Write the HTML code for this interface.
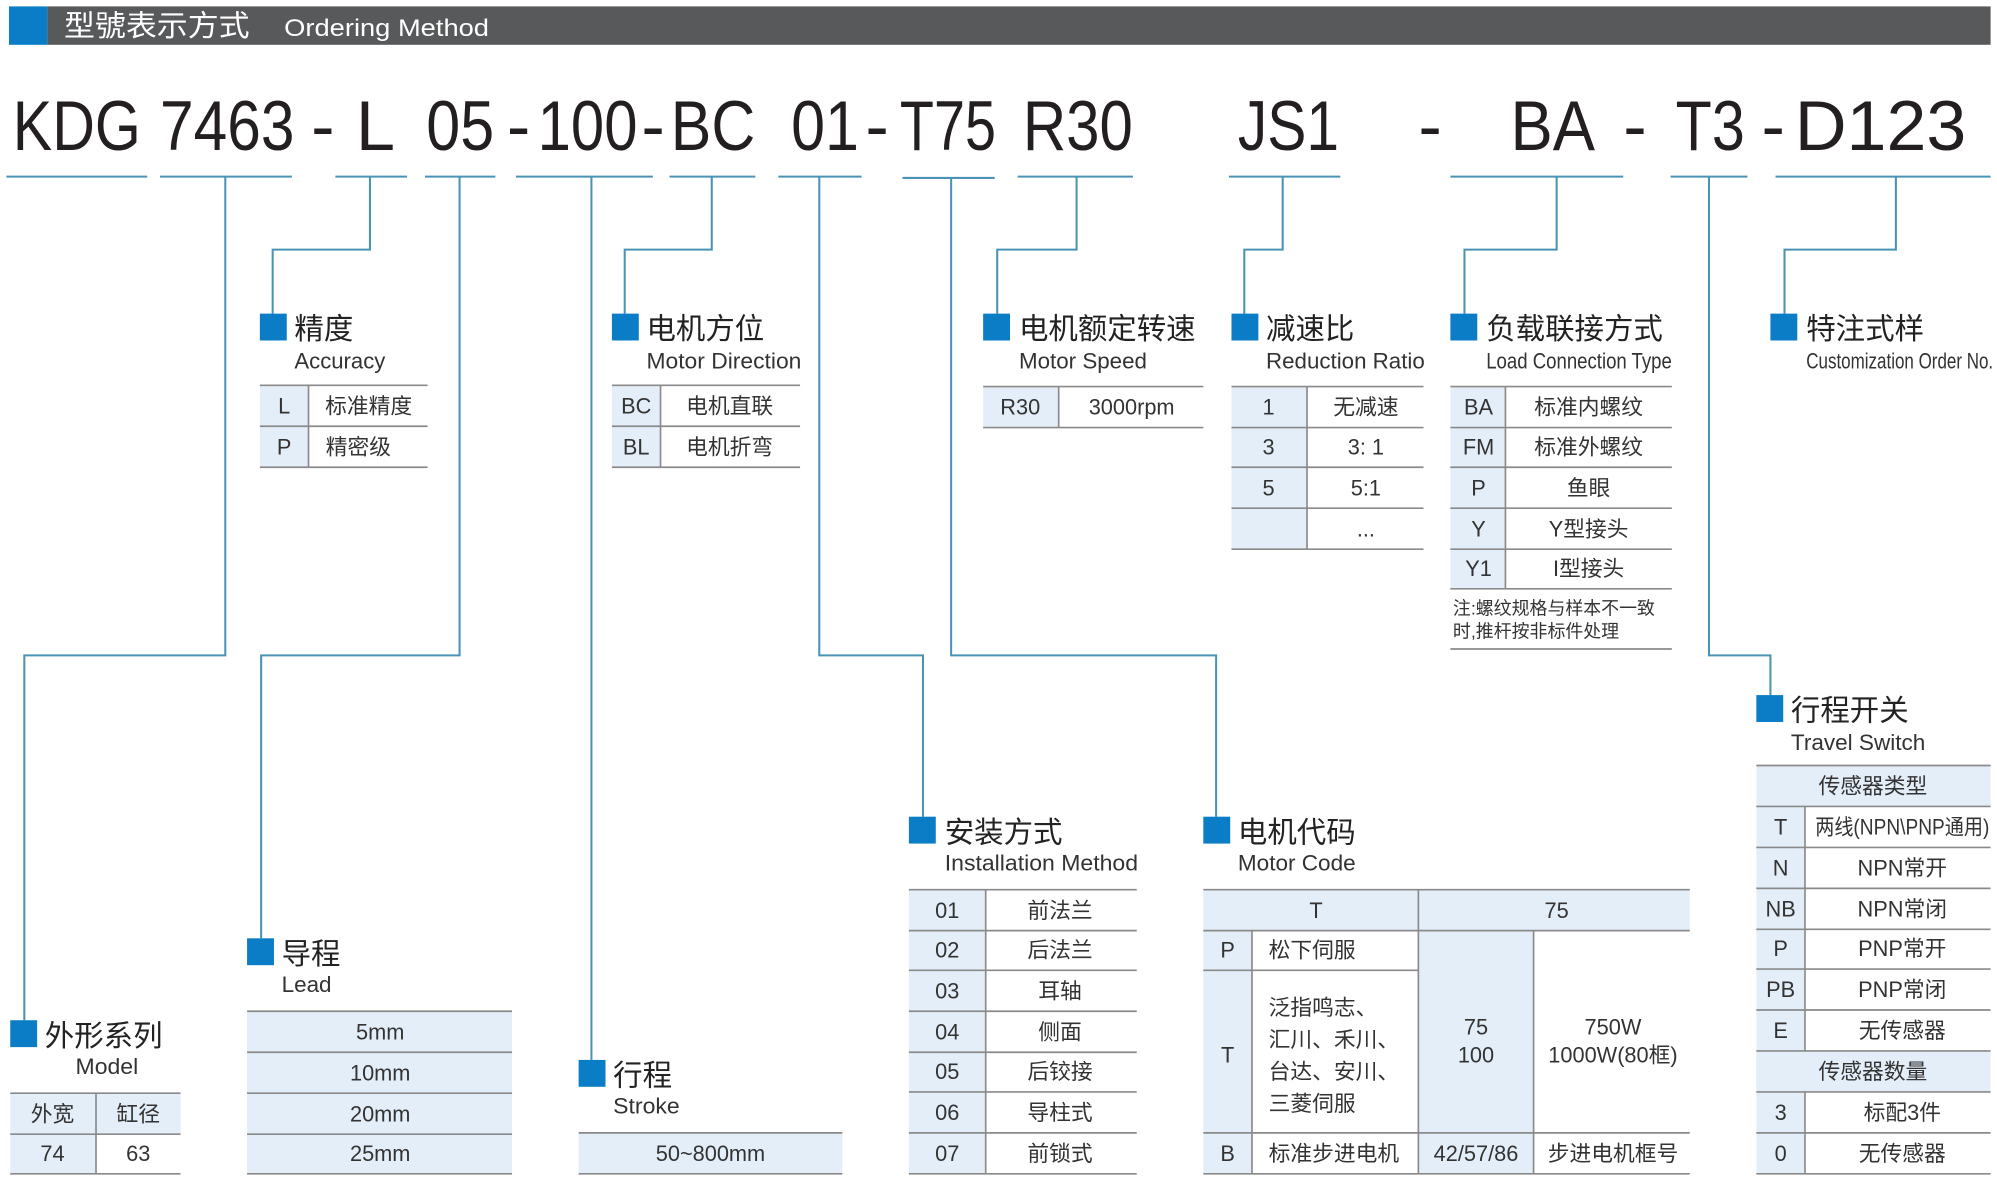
<!DOCTYPE html>
<html><head><meta charset="utf-8"><style>
html,body{margin:0;padding:0;background:#fff;}
svg{display:block;}
text{font-family:"Liberation Sans","Noto Sans CJK SC",sans-serif;fill:#333;}
.big{font-size:55px;fill:#231f20;}
.t{font-size:23px;fill:#222;}
.e{font-size:17px;fill:#333;}
.c{font-size:17px;text-anchor:middle;}
.l{font-size:17px;}
.cn{stroke:#4a93b5;stroke-width:1.6;fill:none;}
.ul{stroke:#4a93b5;stroke-width:1.6;}
.g{stroke:#8a8a8a;stroke-width:1.3;}
.bg{fill:#e4eef8;}
.sq{fill:#0b7dc6;}
</style></head><body>
<svg width="1997" height="1186" viewBox="0 0 1560 926.5" preserveAspectRatio="none" xmlns="http://www.w3.org/2000/svg">
<!-- header -->
<rect x="37" y="5" width="1518" height="30" fill="#58595b"/>
<rect x="7" y="5" width="30" height="30" fill="#0b7dc6"/>
<text x="50" y="28" style="font-size:23px;fill:#fff" textLength="145" lengthAdjust="spacingAndGlyphs">型號表示方式</text>
<text x="222" y="28" style="font-size:19px;fill:#fff" textLength="160" lengthAdjust="spacingAndGlyphs">Ordering Method</text>

<!-- code -->
<g class="big">
<text class="big" x="10" y="117" textLength="100" lengthAdjust="spacingAndGlyphs">KDG</text>
<text class="big" x="125" y="117" textLength="105" lengthAdjust="spacingAndGlyphs">7463</text>
<text class="big" x="243" y="117">-</text>
<text class="big" x="278" y="117">L</text>
<text class="big" x="333" y="117" textLength="53" lengthAdjust="spacingAndGlyphs">05</text>
<text class="big" x="396" y="117">-</text>
<text class="big" x="420" y="117" textLength="78" lengthAdjust="spacingAndGlyphs">100</text>
<text class="big" x="501" y="117">-</text>
<text class="big" x="524" y="117" textLength="66" lengthAdjust="spacingAndGlyphs">BC</text>
<text class="big" x="618" y="117" textLength="53" lengthAdjust="spacingAndGlyphs">01</text>
<text class="big" x="676" y="117">-</text>
<text class="big" x="703" y="117" textLength="75" lengthAdjust="spacingAndGlyphs">T75</text>
<text class="big" x="799" y="117" textLength="86" lengthAdjust="spacingAndGlyphs">R30</text>
<text class="big" x="967" y="117" textLength="79" lengthAdjust="spacingAndGlyphs">JS1</text>
<text class="big" x="1108" y="117">-</text>
<text class="big" x="1180" y="117" textLength="66" lengthAdjust="spacingAndGlyphs">BA</text>
<text class="big" x="1268" y="117">-</text>
<text class="big" x="1309" y="117" textLength="54" lengthAdjust="spacingAndGlyphs">T3</text>
<text class="big" x="1376" y="117">-</text>
<text class="big" x="1402" y="117" textLength="134" lengthAdjust="spacingAndGlyphs">D123</text>
</g>

<!-- underlines -->
<g class="ul">
<line x1="5" y1="138" x2="115" y2="138"/><line x1="125" y1="138" x2="228" y2="138"/>
<line x1="262" y1="138" x2="318" y2="138"/><line x1="332" y1="138" x2="387" y2="138"/>
<line x1="403" y1="138" x2="510" y2="138"/><line x1="523" y1="138" x2="590" y2="138"/>
<line x1="608" y1="138" x2="673" y2="138"/><line x1="705" y1="139" x2="777" y2="139"/>
<line x1="795" y1="138" x2="885" y2="138"/><line x1="960" y1="138" x2="1047" y2="138"/>
<line x1="1133" y1="138" x2="1268" y2="138"/><line x1="1305" y1="138" x2="1365" y2="138"/>
<line x1="1387" y1="138" x2="1555" y2="138"/>
</g>

<!-- connectors -->
<g class="cn">
<polyline points="176,138 176,512 19,512 19,797"/>
<polyline points="289,138 289,195 213,195 213,245"/>
<polyline points="359,138 359,512 204,512 204,733"/>
<polyline points="462,138 462,828"/>
<polyline points="556,138 556,195 488,195 488,245"/>
<polyline points="640,138 640,512 721,512 721,638"/>
<polyline points="743,139 743,512 950,512 950,638"/>
<polyline points="841,138 841,195 779,195 779,245"/>
<polyline points="1002,138 1002,195 972,195 972,245"/>
<polyline points="1216,138 1216,195 1144,195 1144,245"/>
<polyline points="1335,138 1335,512 1383,512 1383,543"/>
<polyline points="1481,138 1481,195 1394,195 1394,245"/>
</g>

<!-- squares -->
<g class="sq">
<rect x="8" y="797" width="21" height="21"/>
<rect x="203" y="245" width="21" height="21"/>
<rect x="193" y="733" width="21" height="21"/>
<rect x="452" y="828" width="21" height="21"/>
<rect x="478" y="245" width="21" height="21"/>
<rect x="710" y="638" width="21" height="21"/>
<rect x="940" y="638" width="21" height="21"/>
<rect x="768" y="245" width="21" height="21"/>
<rect x="962" y="245" width="21" height="21"/>
<rect x="1133" y="245" width="21" height="21"/>
<rect x="1372" y="543" width="21" height="21"/>
<rect x="1383" y="245" width="21" height="21"/>
</g>

<!-- titles -->
<text class="t" x="35" y="817">外形系列</text>
<text class="e" x="59" y="839" textLength="49" lengthAdjust="spacingAndGlyphs">Model</text>
<text class="t" x="230" y="265">精度</text>
<text class="e" x="230" y="288" textLength="71" lengthAdjust="spacingAndGlyphs">Accuracy</text>
<text class="t" x="220" y="753">导程</text>
<text class="e" x="220" y="775" textLength="39" lengthAdjust="spacingAndGlyphs">Lead</text>
<text class="t" x="479" y="848">行程</text>
<text class="e" x="479" y="870" textLength="52" lengthAdjust="spacingAndGlyphs">Stroke</text>
<text class="t" x="505" y="265">电机方位</text>
<text class="e" x="505" y="288" textLength="121" lengthAdjust="spacingAndGlyphs">Motor Direction</text>
<text class="t" x="738" y="658">安装方式</text>
<text class="e" x="738" y="680" textLength="151" lengthAdjust="spacingAndGlyphs">Installation Method</text>
<text class="t" x="967" y="658">电机代码</text>
<text class="e" x="967" y="680" textLength="92" lengthAdjust="spacingAndGlyphs">Motor Code</text>
<text class="t" x="796" y="265">电机额定转速</text>
<text class="e" x="796" y="288" textLength="100" lengthAdjust="spacingAndGlyphs">Motor Speed</text>
<text class="t" x="989" y="265">减速比</text>
<text class="e" x="989" y="288" textLength="124" lengthAdjust="spacingAndGlyphs">Reduction Ratio</text>
<text class="t" x="1161" y="265">负载联接方式</text>
<text class="e" x="1161" y="288" textLength="145" lengthAdjust="spacingAndGlyphs">Load Connection Type</text>
<text class="t" x="1411" y="265">特注式样</text>
<text class="e" x="1411" y="288" textLength="146" lengthAdjust="spacingAndGlyphs">Customization Order No.</text>
<text class="t" x="1399" y="563">行程开关</text>
<text class="e" x="1399" y="586" textLength="105" lengthAdjust="spacingAndGlyphs">Travel Switch</text>

<!-- Accuracy table -->
<rect class="bg" x="203" y="301" width="38" height="64"/>
<g class="g"><line x1="203" y1="301" x2="334" y2="301"/><line x1="203" y1="333" x2="334" y2="333"/><line x1="203" y1="365" x2="334" y2="365"/><line x1="241" y1="301" x2="241" y2="365"/></g>
<text class="c" x="222" y="323">L</text><text class="c" x="288" y="323">标准精度</text>
<text class="c" x="222" y="355">P</text><text class="c" x="280" y="355">精密级</text>

<!-- Motor direction table -->
<rect class="bg" x="478" y="301" width="38" height="64"/>
<g class="g"><line x1="478" y1="301" x2="625" y2="301"/><line x1="478" y1="333" x2="625" y2="333"/><line x1="478" y1="365" x2="625" y2="365"/><line x1="516" y1="301" x2="516" y2="365"/></g>
<text class="c" x="497" y="323">BC</text><text class="c" x="570" y="323">电机直联</text>
<text class="c" x="497" y="355">BL</text><text class="c" x="570" y="355">电机折弯</text>

<!-- Motor speed -->
<rect class="bg" x="768" y="302" width="59" height="32"/>
<g class="g"><line x1="768" y1="302" x2="940" y2="302"/><line x1="768" y1="334" x2="940" y2="334"/><line x1="827" y1="302" x2="827" y2="334"/></g>
<text class="c" x="797" y="324">R30</text><text class="c" x="884" y="324">3000rpm</text>

<!-- Reduction -->
<rect class="bg" x="962" y="302" width="59" height="127"/>
<g class="g"><line x1="962" y1="302" x2="1112" y2="302"/><line x1="962" y1="334" x2="1112" y2="334"/><line x1="962" y1="365" x2="1112" y2="365"/><line x1="962" y1="397" x2="1112" y2="397"/><line x1="962" y1="429" x2="1112" y2="429"/><line x1="1021" y1="302" x2="1021" y2="429"/></g>
<text class="c" x="991" y="324">1</text><text class="c" x="1067" y="324">无减速</text>
<text class="c" x="991" y="355">3</text><text class="c" x="1067" y="355">3: 1</text>
<text class="c" x="991" y="387">5</text><text class="c" x="1067" y="387">5:1</text>
<text class="c" x="1067" y="419">...</text>

<!-- Load -->
<rect class="bg" x="1133" y="302" width="43" height="158"/>
<g class="g"><line x1="1133" y1="302" x2="1306" y2="302"/><line x1="1133" y1="334" x2="1306" y2="334"/><line x1="1133" y1="365" x2="1306" y2="365"/><line x1="1133" y1="397" x2="1306" y2="397"/><line x1="1133" y1="429" x2="1306" y2="429"/><line x1="1133" y1="460" x2="1306" y2="460"/><line x1="1176" y1="302" x2="1176" y2="460"/><line x1="1133" y1="507" x2="1306" y2="507"/></g>
<text class="c" x="1155" y="324">BA</text><text class="c" x="1241" y="324">标准内螺纹</text>
<text class="c" x="1155" y="355">FM</text><text class="c" x="1241" y="355">标准外螺纹</text>
<text class="c" x="1155" y="387">P</text><text class="c" x="1241" y="387">鱼眼</text>
<text class="c" x="1155" y="419">Y</text><text class="c" x="1241" y="419">Y型接头</text>
<text class="c" x="1155" y="450">Y1</text><text class="c" x="1241" y="450">I型接头</text>
<text x="1135" y="480" style="font-size:14px">注:螺纹规格与样本不一致</text>
<text x="1135" y="498" style="font-size:14px">时,推杆按非标件处理</text>

<!-- Model -->
<rect class="bg" x="8" y="854" width="133" height="32"/>
<rect class="bg" x="8" y="886" width="67" height="31"/>
<g class="g"><line x1="8" y1="854" x2="141" y2="854"/><line x1="8" y1="886" x2="141" y2="886"/><line x1="8" y1="917" x2="141" y2="917"/><line x1="75" y1="854" x2="75" y2="917"/></g>
<text class="c" x="41" y="876">外宽</text><text class="c" x="108" y="876">缸径</text>
<text class="c" x="41" y="907">74</text><text class="c" x="108" y="907">63</text>

<!-- Lead -->
<rect class="bg" x="193" y="790" width="207" height="127"/>
<g class="g"><line x1="193" y1="790" x2="400" y2="790"/><line x1="193" y1="822" x2="400" y2="822"/><line x1="193" y1="854" x2="400" y2="854"/><line x1="193" y1="886" x2="400" y2="886"/><line x1="193" y1="917" x2="400" y2="917"/></g>
<text class="c" x="297" y="812">5mm</text><text class="c" x="297" y="844">10mm</text><text class="c" x="297" y="876">20mm</text><text class="c" x="297" y="907">25mm</text>

<!-- Stroke -->
<rect class="bg" x="452" y="885" width="206" height="32"/>
<g class="g"><line x1="452" y1="885" x2="658" y2="885"/><line x1="452" y1="917" x2="658" y2="917"/></g>
<text class="c" x="555" y="907">50~800mm</text>

<!-- Installation -->
<rect class="bg" x="710" y="695" width="60" height="222"/>
<g class="g">
<line x1="710" y1="695" x2="888" y2="695"/><line x1="710" y1="727" x2="888" y2="727"/><line x1="710" y1="758" x2="888" y2="758"/><line x1="710" y1="790" x2="888" y2="790"/><line x1="710" y1="822" x2="888" y2="822"/><line x1="710" y1="853" x2="888" y2="853"/><line x1="710" y1="885" x2="888" y2="885"/><line x1="710" y1="917" x2="888" y2="917"/><line x1="770" y1="695" x2="770" y2="917"/></g>
<text class="c" x="740" y="717">01</text><text class="c" x="828" y="717">前法兰</text>
<text class="c" x="740" y="748">02</text><text class="c" x="828" y="748">后法兰</text>
<text class="c" x="740" y="780">03</text><text class="c" x="828" y="780">耳轴</text>
<text class="c" x="740" y="812">04</text><text class="c" x="828" y="812">侧面</text>
<text class="c" x="740" y="843">05</text><text class="c" x="828" y="843">后铰接</text>
<text class="c" x="740" y="875">06</text><text class="c" x="828" y="875">导柱式</text>
<text class="c" x="740" y="907">07</text><text class="c" x="828" y="907">前锁式</text>

<!-- Motor code -->
<rect class="bg" x="940" y="695" width="380" height="32"/>
<rect class="bg" x="940" y="727" width="38" height="190"/>
<rect class="bg" x="1108" y="727" width="90" height="190"/>
<g class="g">
<line x1="940" y1="695" x2="1320" y2="695"/><line x1="940" y1="727" x2="1320" y2="727"/><line x1="940" y1="758" x2="1108" y2="758"/><line x1="940" y1="885" x2="1320" y2="885"/><line x1="940" y1="917" x2="1320" y2="917"/>
<line x1="978" y1="727" x2="978" y2="917"/><line x1="1108" y1="695" x2="1108" y2="917"/><line x1="1198" y1="727" x2="1198" y2="917"/></g>
<text class="c" x="1028" y="717">T</text><text class="c" x="1216" y="717">75</text>
<text class="c" x="959" y="748">P</text><text class="l" x="991" y="748">松下伺服</text>
<text class="c" x="959" y="830">T</text>
<text class="l" x="991" y="793">泛指鸣志、</text><text class="l" x="991" y="818">汇川、禾川、</text><text class="l" x="991" y="843">台达、安川、</text><text class="l" x="991" y="868">三菱伺服</text>
<text class="c" x="1153" y="808">75</text><text class="c" x="1153" y="830">100</text>
<text class="c" x="1260" y="808">750W</text><text class="c" x="1260" y="830">1000W(80框)</text>
<text class="c" x="959" y="907">B</text><text class="l" x="991" y="907">标准步进电机</text>
<text class="c" x="1153" y="907">42/57/86</text><text class="c" x="1260" y="907">步进电机框号</text>

<!-- Travel switch -->
<rect class="bg" x="1372" y="598" width="183" height="32"/>
<rect class="bg" x="1372" y="630" width="38" height="287"/>
<rect class="bg" x="1372" y="821" width="183" height="32"/>
<g class="g">
<line x1="1372" y1="598" x2="1555" y2="598"/><line x1="1372" y1="630" x2="1555" y2="630"/><line x1="1372" y1="662" x2="1555" y2="662"/><line x1="1372" y1="694" x2="1555" y2="694"/><line x1="1372" y1="726" x2="1555" y2="726"/><line x1="1372" y1="757" x2="1555" y2="757"/><line x1="1372" y1="789" x2="1555" y2="789"/><line x1="1372" y1="821" x2="1555" y2="821"/><line x1="1372" y1="853" x2="1555" y2="853"/><line x1="1372" y1="885" x2="1555" y2="885"/><line x1="1372" y1="917" x2="1555" y2="917"/>
<line x1="1410" y1="630" x2="1410" y2="821"/><line x1="1410" y1="853" x2="1410" y2="917"/></g>
<text class="c" x="1463" y="620">传感器类型</text>
<text class="c" x="1391" y="652">T</text><text class="c" x="1486" y="652" textLength="136" lengthAdjust="spacingAndGlyphs">两线(NPN\PNP通用)</text>
<text class="c" x="1391" y="684">N</text><text class="c" x="1486" y="684">NPN常开</text>
<text class="c" x="1391" y="716">NB</text><text class="c" x="1486" y="716">NPN常闭</text>
<text class="c" x="1391" y="747">P</text><text class="c" x="1486" y="747">PNP常开</text>
<text class="c" x="1391" y="779">PB</text><text class="c" x="1486" y="779">PNP常闭</text>
<text class="c" x="1391" y="811">E</text><text class="c" x="1486" y="811">无传感器</text>
<text class="c" x="1463" y="843">传感器数量</text>
<text class="c" x="1391" y="875">3</text><text class="c" x="1486" y="875">标配3件</text>
<text class="c" x="1391" y="907">0</text><text class="c" x="1486" y="907">无传感器</text>
</svg>
</body></html>
